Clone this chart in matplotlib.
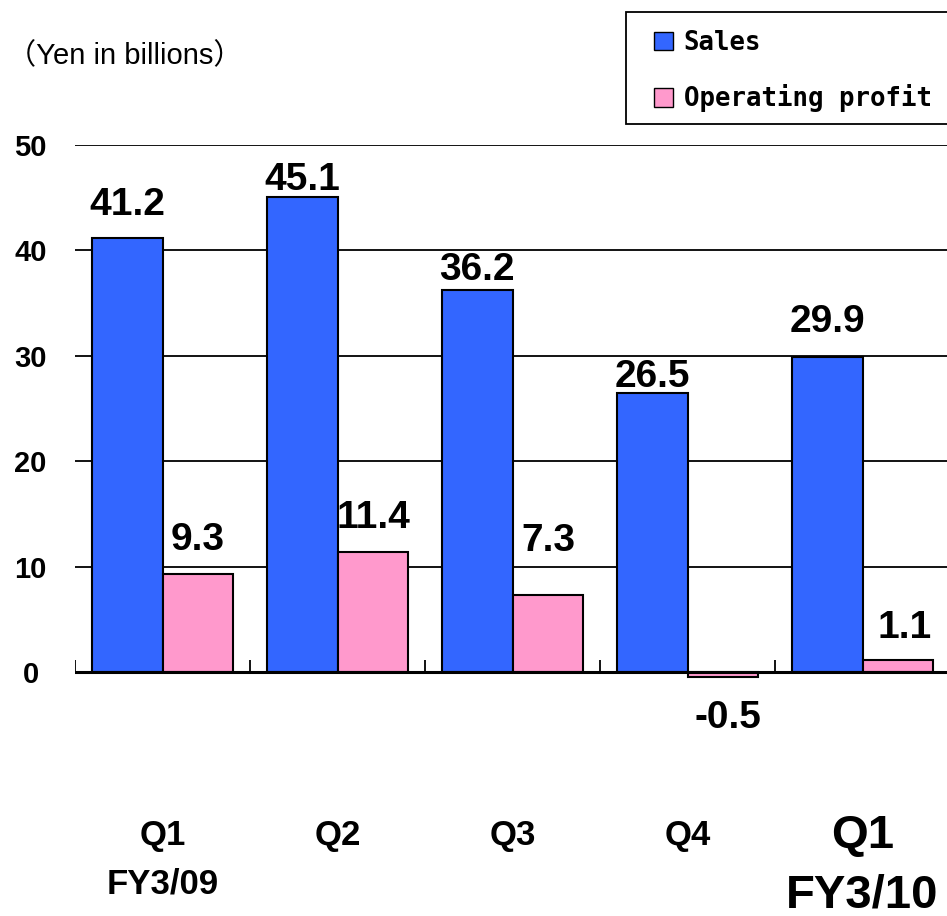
import matplotlib
matplotlib.use("Agg")
import matplotlib.pyplot as plt
from matplotlib.patches import Patch, Rectangle

quarters = ["Q1", "Q2", "Q3", "Q4", "Q1"]
years = ["FY3/09", "", "", "", "FY3/10"]
sales = [41.2, 45.1, 36.2, 26.5, 29.9]
profit = [9.3, 11.4, 7.3, -0.5, 1.1]

# where the value labels sit (data units)
sales_lab_y = [44.3, 46.7, 38.1, 28.0, 33.2]
profit_lab_y = [12.5, 14.6, 12.4, -4.4, 4.2]
profit_lab_dx = [0, 0, 0, 0.03, 0.04]

blue = "#3366FF"
pink = "#FF99CC"
bold_font = "Liberation Sans"

fig = plt.figure(figsize=(9.47, 9.16), dpi=100)
ax = fig.add_axes([75 / 947, 0.2088, 875 / 947, 0.6329])

x = list(range(len(sales)))
w = 0.405
ax.bar([i - w / 2 for i in x], sales, w, color=blue, edgecolor="black", linewidth=1.5, zorder=3)
ax.bar([i + w / 2 for i in x], profit, w, color=pink, edgecolor="black", linewidth=1.5, zorder=3)

for v in [10, 20, 30, 40, 50]:
    ax.axhline(v, color="black", linewidth=1.3, zorder=1)
ax.axhline(0, color="black", linewidth=2.2, zorder=4)
ax.vlines([i - 0.5 for i in range(len(sales))], 0, 1.15, color="black", linewidth=1.3, zorder=4)

ax.set_xlim(-0.5, 4.5)
ax.set_ylim(-5, 50)
for s in ax.spines.values():
    s.set_visible(False)
ax.set_xticks([])
ax.set_yticks([0, 10, 20, 30, 40, 50])
ax.tick_params(axis="y", length=0, pad=32)
for t in ax.get_yticklabels():
    t.set_fontfamily(bold_font)
    t.set_fontweight("bold")
    t.set_fontsize(21)
    t.set_horizontalalignment("center")

for i in x:
    ax.text(i - w / 2, sales_lab_y[i], f"{sales[i]:.1f}", ha="center", va="center",
            fontsize=28, fontweight="bold", family=bold_font)
    ax.text(i + w / 2 + profit_lab_dx[i], profit_lab_y[i], f"{profit[i]:.1f}", ha="center",
            va="center", fontsize=28, fontweight="bold", family=bold_font)

for i in x:
    big = i == len(x) - 1
    ax.text(i, -15.6 if big else -15.5, quarters[i], ha="center", va="center", fontweight="bold",
            family=bold_font, fontsize=34 if big else 25)
    if years[i]:
        ax.text(i, -21.2 if big else -20.1, years[i], ha="center", va="center", fontweight="bold",
                family=bold_font, fontsize=34 if big else 25)

fig.text(7 / 947, 1 - 56 / 916, "（Yen in billions）", ha="left", va="center",
         fontsize=21, family=["Liberation Sans", "Noto Sans CJK JP"])

# legend box runs off the right edge like the original
fig.patches.append(Rectangle((626 / 947, 1 - 124 / 916), 340 / 947, 112 / 916,
                             transform=fig.transFigure, facecolor="white",
                             edgecolor="black", linewidth=1.3))
handles = [Patch(facecolor=blue, edgecolor="black", label="Sales"),
           Patch(facecolor=pink, edgecolor="black", label="Operating profit")]
leg = fig.legend(handles=handles, loc="upper left", bbox_to_anchor=(654 / 947, 1 - 30 / 916),
                 frameon=False, prop={"family": "DejaVu Sans Mono", "size": 18.5, "weight": "bold"},
                 handlelength=0.75, handleheight=0.75, handletextpad=0.4, labelspacing=1.1,
                 borderpad=0, borderaxespad=0)

fig.savefig("out.png", dpi=100)
